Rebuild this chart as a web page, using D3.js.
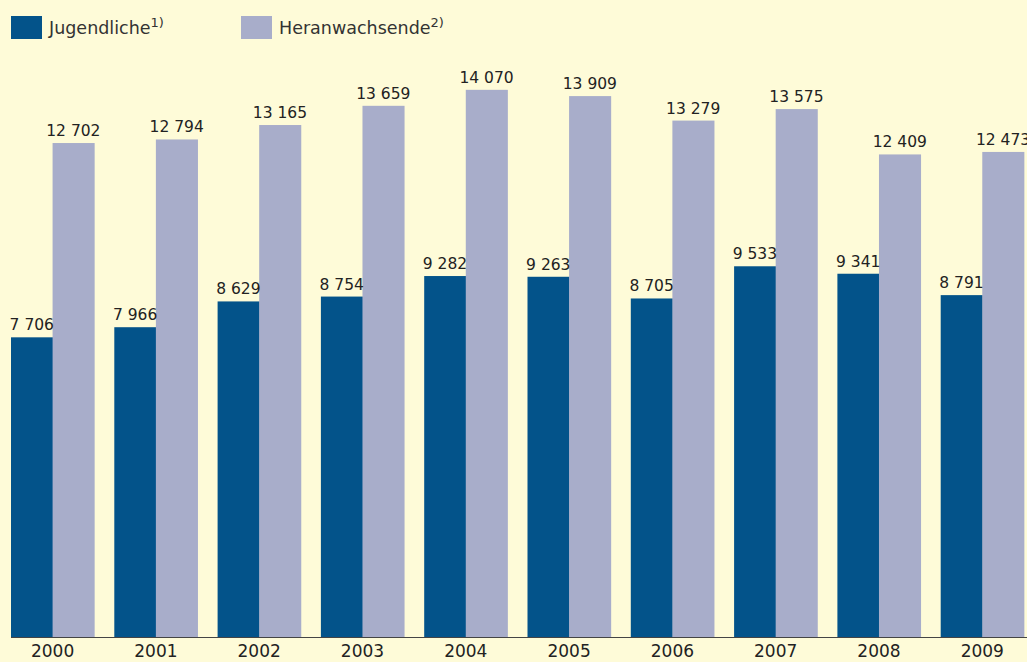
<!DOCTYPE html>
<html>
<head>
<meta charset="utf-8">
<script src="https://cdn.jsdelivr.net/npm/d3@7"></script>
<style>
  body { margin: 0; background: #fefbd8; }
  svg { display: block; }
</style>
</head>
<body>
<div id="chart"></div>
<script>
// values
let years = ["2000","2001","2002","2003","2004","2005","2006","2007","2008","2009"]
let jugendliche = [7706, 7966, 8629, 8754, 9282, 9263, 8705, 9533, 9341, 8791]
let heranwachsende = [12702, 12794, 13165, 13659, 14070, 13909, 13279, 13575, 12409, 12473]
let seriesNames = ["Jugendliche", "Heranwachsende"]
let seriesNotes = ["1)", "2)"]

let width = 1027, height = 662
let colors = ["#03538a", "#a8adca"]
let baseY = 637
let step = 103.3, pad = 0.195

let svg = d3.select("#chart")
  .append("svg")
  .attr("width", width)
  .attr("height", height)

svg.append("rect")
  .attr("width", width).attr("height", height)
  .attr("fill", "#fefbd8")

let x = d3.scaleBand()
  .domain(years)
  .range([11, 11 + step * (years.length - pad)])
  .paddingInner(pad)
  .paddingOuter(0)

let x1 = d3.scaleBand()
  .domain([0, 1])
  .range([0, x.bandwidth()])

let y = d3.scaleLinear()
  .domain([0, 16380])
  .range([baseY, 0])

let font = "'DejaVu Sans', sans-serif"

let groups = svg.selectAll("g.year")
  .data(years)
  .enter()
  .append("g")
  .attr("class", "year")
  .attr("transform", d => `translate(${x(d)},0)`)

let both = [jugendliche, heranwachsende]

groups.selectAll("rect")
  .data((d, i) => both.map((s, k) => ({k: k, v: s[i]})))
  .enter()
  .append("rect")
  .attr("x", d => x1(d.k))
  .attr("y", d => y(d.v))
  .attr("width", x1.bandwidth() + 0.5)
  .attr("height", d => baseY - y(d.v))
  .attr("fill", d => colors[d.k])

let fmt = v => d3.format(",")(v).replace(",", " ")

groups.selectAll("text.val")
  .data((d, i) => both.map((s, k) => ({k: k, v: s[i]})))
  .enter()
  .append("text")
  .attr("class", "val")
  .attr("x", d => x1(d.k) + x1.bandwidth() / 2)
  .attr("y", d => y(d.v) - 7)
  .attr("text-anchor", "middle")
  .attr("font-family", font)
  .attr("font-size", 15.5)
  .attr("fill", "#222")
  .text(d => fmt(d.v))

// baseline
svg.append("line")
  .attr("x1", 11).attr("x2", width)
  .attr("y1", baseY + 0.5).attr("y2", baseY + 0.5)
  .attr("stroke", "#444")
  .attr("stroke-width", 1.2)

let xAxis = svg.append("g")
  .attr("transform", `translate(0,${baseY})`)
  .call(d3.axisBottom(x).tickSize(0).tickPadding(8))
xAxis.select(".domain").remove()
xAxis.selectAll("text")
  .attr("font-family", font)
  .attr("font-size", 17)
  .attr("fill", "#222")

// legend
let legend = svg.selectAll("g.legend")
  .data(seriesNames)
  .enter()
  .append("g")
  .attr("class", "legend")
  .attr("transform", (d, i) => `translate(${11 + i * 230},16)`)

legend.append("rect")
  .attr("width", 31).attr("height", 23)
  .attr("fill", (d, i) => colors[i])

let lt = legend.append("text")
  .attr("x", 38).attr("y", 18)
  .attr("font-family", font)
  .attr("font-size", 17.5)
  .attr("fill", "#333")
lt.append("tspan").text(d => d)
lt.append("tspan")
  .attr("font-size", 13)
  .attr("dy", -7)
  .text((d, i) => seriesNotes[i])
</script>
</body>
</html>
